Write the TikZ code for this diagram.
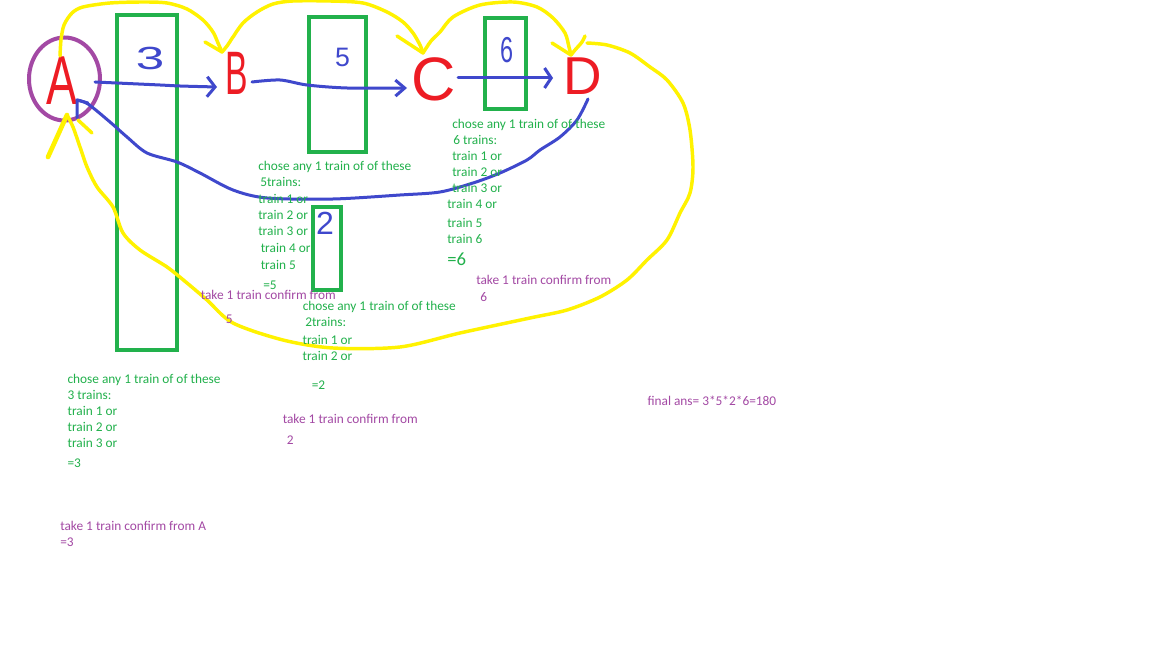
\documentclass[tikz,border=0pt]{standalone}
\usepackage{fontspec}
\setmainfont{Carlito}
\newfontfamily\handfont{Liberation Sans}
\usepackage{graphicx}
\usetikzlibrary{arrows.meta}
\definecolor{pgreen}{HTML}{22B14C}
\definecolor{pblue}{HTML}{3F48CC}
\definecolor{pred}{HTML}{ED1C24}
\definecolor{ppurple}{HTML}{A349A4}
\definecolor{pyellow}{HTML}{FFF200}
\begin{document}
\begin{tikzpicture}[x=0.75pt,y=-0.75pt,
  gtext/.style={text=pgreen, anchor=base west, inner sep=0pt, font=\fontsize{10pt}{12pt}\selectfont},
  bigeq/.style={gtext, font=\fontsize{14pt}{16pt}\selectfont},
  ptext/.style={text=ppurple, anchor=base west, inner sep=0pt, font=\fontsize{10pt}{12pt}\selectfont},
  letter/.style={text=pred, inner sep=0pt},
  digit/.style={text=pblue, inner sep=0pt},
  greenbox/.style={draw=pgreen, line width=3pt},
  bluel/.style={draw=pblue, line width=2.25pt, line cap=round, line join=round},
  yell/.style={draw=pyellow, line width=2.6pt, line cap=round, line join=round},
  circ/.style={draw=ppurple, line width=3pt}
]
\useasboundingbox[fill=white] (0,0) rectangle (1152,648);

% green boxes
\draw[greenbox] (116.5,15.5) rectangle (176.5,350);
\draw[greenbox] (309,17.5) rectangle (365.5,152.5);
\draw[greenbox] (484.5,18.5) rectangle (525.5,109);
\draw[greenbox] (312.5,207) rectangle (340.5,290.5);

% digits
\node[digit, font=\handfont\fontsize{24pt}{24pt}\selectfont] (n3) at (150,58.5) {\scalebox{1.6}[1]{3}};
\node[digit, font=\handfont\fontsize{20pt}{20pt}\selectfont] (n5) at (342.5,57.5) {5};
\node[digit, font=\handfont\fontsize{27pt}{27pt}\selectfont] (n6) at (506.5,50) {\scalebox{0.65}[1]{6}};
\node[digit, font=\handfont\fontsize{24pt}{24pt}\selectfont] (n2) at (325,223.5) {2};

% station letters
\node[letter, font=\handfont\fontsize{52pt}{52pt}\selectfont] (A) at (62,81) {\scalebox{0.67}[1]{A}};
\node[letter, font=\handfont\fontsize{46pt}{46pt}\selectfont] (B) at (237,73) {\scalebox{0.55}[1]{B}};
\node[letter, font=\handfont\fontsize{46pt}{46pt}\selectfont] (C) at (434,79) {C};
\node[letter, font=\handfont\fontsize{40pt}{40pt}\selectfont] (D) at (583,76) {D};
\draw[circ] (64.5,79) ellipse [x radius=35.5, y radius=41.5];

% connector end points
\coordinate (Aout) at (95,82);
\coordinate (Bin) at (217,87);
\coordinate (Bout) at (252,82);
\coordinate (Cin) at (407,88);
\coordinate (Cout) at (458,78);
\coordinate (Din) at (553,78);
\coordinate (Dbot) at (588,99);
\coordinate (Ain) at (77,100);
\coordinate (Atop) at (60,56);
\coordinate (Btop) at (222,52);
\coordinate (Ctop) at (423,53);
\coordinate (Dtop) at (571,55);
\coordinate (Dright) at (587,43);
\coordinate (Abot) at (67,115);

% blue arrows
\draw[bluel, -{Straight Barb[length=6pt,width=15pt]}] plot[smooth] coordinates {(Aout) (160,85) (180,86) (Bin)};
\draw[bluel, -{Straight Barb[length=7pt,width=12pt]}] plot[smooth] coordinates {(Bout) (280,80) (307,85) (347,88) (Cin)};
\draw[bluel, -{Straight Barb[length=5pt,width=15pt]}] (Cout) -- (Din);
\draw[bluel] plot[smooth] coordinates {(Dbot) (577,120) (560,137) (540,150) (527,160) (500,173) (473,183) (440,192) (400,195) (333,199) (267,198) (233,190) (200,173) (177,162) (147,153) (127,137) (110,122) (88,104) (Ain)};
\draw[bluel] (77,118) -- (Ain) -- (88,103);

% yellow curves
\draw[yell] plot[smooth] coordinates {(Atop) (61,40) (64,25) (72,13) (83,7) (110,3) (143,2) (167,3) (187,9) (203,20) (213,32) (218,43) (Btop)};
\draw[yell] (205,42) -- (Btop);
\draw[yell] plot[smooth] coordinates {(Btop) (227,46) (233,37) (243,23) (257,12) (273,4) (293,1) (330,1) (363,3) (387,12) (403,22) (413,33) (420,45) (Ctop)};
\draw[yell] (397,36) -- (Ctop);
\draw[yell] plot[smooth] coordinates {(Ctop) (431,41) (440,32) (453,17) (480,5) (513,2) (537,7) (553,18) (565,33) (569,47) (Dtop)};
\draw[yell] (552,43) -- (Dtop);
\draw[yell] plot[smooth] coordinates {(Dtop) (575,50) (582,42) (585,36)};
\draw[yell] plot[smooth] coordinates {(Dright) (607,45) (630,53) (650,67) (667,80) (683,103) (690,130) (693,167) (690,193) (680,213) (667,240) (647,260) (627,280) (600,297) (567,310) (530,318) (460,333) (400,347) (333,348) (283,340) (233,323) (207,300) (187,283) (167,267) (140,250) (123,233) (113,207) (97,187) (87,167) (80,147) (73,127) (Abot)};
\draw[yell, line width=3.5pt] (Abot) -- (48,157);
\draw[yell] (78,120) -- (92,133);

% text at C (6 trains)
\node[gtext] (c1) at (452,129) {chose any 1 train of of these};
\node[gtext] (c2) at (453,145) {6 trains:};
\node[gtext] (c3) at (452,161) {train 1 or};
\node[gtext] (c4) at (452,177) {train 2 or};
\node[gtext] (c5) at (452,193) {train 3 or};
\node[gtext] (c6) at (447,209) {train 4 or};
\node[gtext] (c7) at (447,228) {train 5};
\node[gtext] (c8) at (447,244) {train 6};
\node[bigeq] (c9) at (447,266) {=6};
\node[ptext] (c10) at (476,285) {take 1 train confirm from};
\node[ptext] (c11) at (480,302) {6};

% text at B (5 trains)
\node[gtext] (b1) at (258,170.5) {chose any 1 train of of these};
\node[gtext] (b2) at (260,187) {5trains:};
\node[gtext] (b3) at (258,203.5) {train 1 or};
\node[gtext] (b4) at (258,219.5) {train 2 or};
\node[gtext] (b5) at (258,235.5) {train 3 or};
\node[gtext] (b6) at (260.5,253) {train 4 or};
\node[gtext] (b7) at (260.5,269.5) {train 5};
\node[gtext] (b8) at (263,290) {=5};
\node[ptext] (b9) at (200.5,300) {take 1 train confirm from};
\node[ptext] (b10) at (225.5,324) {5};

% text at 2 (2 trains)
\node[gtext] (t1) at (302.5,311) {chose any 1 train of of these};
\node[gtext] (t2) at (305,327) {2trains:};
\node[gtext] (t3) at (302.3,344.5) {train 1 or};
\node[gtext] (t4) at (302.3,360.5) {train 2 or};
\node[gtext] (t5) at (311.5,389) {=2};
\node[ptext] (t6) at (282.5,423) {take 1 train confirm from};
\node[ptext] (t7) at (286.5,444) {2};

% text at A (3 trains)
\node[gtext] (a1) at (67.3,383) {chose any 1 train of of these};
\node[gtext] (a2) at (67.3,399.5) {3 trains:};
\node[gtext] (a3) at (67.3,415.5) {train 1 or};
\node[gtext] (a4) at (67.3,431.5) {train 2 or};
\node[gtext] (a5) at (67.3,447) {train 3 or};
\node[gtext] (a6) at (67.3,467) {=3};
\node[ptext] (a7) at (60,530.5) {take 1 train confirm from A};
\node[ptext] (a8) at (60,546.5) {=3};

% final answer
\node[ptext] (fin) at (647.3,405.5) {final ans= 3*5*2*6=180};
\end{tikzpicture}
\end{document}
